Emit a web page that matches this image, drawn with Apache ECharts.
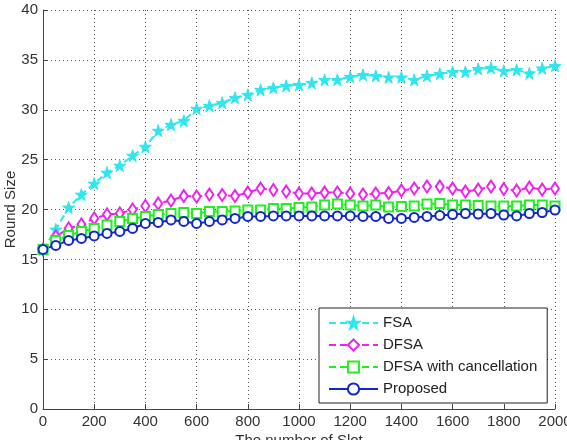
<!DOCTYPE html>
<html>
<head>
<meta charset="utf-8">
<title>Round Size</title>
<script src="https://cdn.jsdelivr.net/npm/echarts@6/dist/echarts.min.js"></script>
<style>
	html, body { margin: 0; padding: 0; background: #fff; }
	#main { width: 567px; height: 440px; }
</style>
</head>
<body>
	<div id="main"></div>
<script type="text/javascript">
	// 横轴：时隙数
	var slots = [0, 50, 100, 150, 200, 250, 300, 350, 400, 450, 500, 550, 600, 650, 700, 750, 800, 850, 900, 950,
		1000, 1050, 1100, 1150, 1200, 1250, 1300, 1350, 1400, 1450, 1500, 1550, 1600, 1650, 1700, 1750, 1800, 1850, 1900, 1950, 2000];
	var fsa = [16, 18.0, 20.2, 21.5, 22.6, 23.7, 24.4, 25.4, 26.3, 27.9, 28.5, 28.9, 30.1, 30.4, 30.7, 31.2, 31.5, 32.0, 32.2, 32.4,
		32.5, 32.7, 33.0, 33.0, 33.3, 33.5, 33.4, 33.25, 33.25, 33.0, 33.4, 33.6, 33.8, 33.8, 34.1, 34.2, 33.9, 34.0, 33.65, 34.15, 34.4];
	var dfsa = [16, 17.3, 18.1, 18.5, 19.1, 19.5, 19.6, 20.0, 20.35, 20.6, 20.9, 21.35, 21.3, 21.5, 21.45, 21.35, 21.7, 22.1, 21.95, 21.8,
		21.6, 21.6, 21.7, 21.7, 21.6, 21.5, 21.6, 21.65, 21.9, 22.1, 22.3, 22.3, 22.1, 21.8, 22.0, 22.3, 22.05, 21.9, 22.2, 22.0, 22.1];
	var dfsaCancel = [16, 16.9, 17.4, 17.8, 18.1, 18.45, 18.8, 19.1, 19.3, 19.5, 19.6, 19.7, 19.6, 19.8, 19.8, 19.85, 19.95, 19.95, 20.1, 20.1,
		20.2, 20.25, 20.45, 20.55, 20.45, 20.35, 20.45, 20.25, 20.3, 20.35, 20.55, 20.6, 20.45, 20.45, 20.4, 20.35, 20.35, 20.35, 20.45, 20.45, 20.35];
	var proposed = [16, 16.4, 16.9, 17.1, 17.35, 17.6, 17.8, 18.1, 18.6, 18.7, 18.95, 18.8, 18.6, 18.8, 18.95, 19.1, 19.3, 19.3, 19.35, 19.35,
		19.35, 19.35, 19.35, 19.35, 19.35, 19.3, 19.3, 19.1, 19.1, 19.2, 19.3, 19.4, 19.5, 19.6, 19.55, 19.6, 19.45, 19.35, 19.6, 19.7, 19.95];
	var names = ['FSA', 'DFSA', 'DFSA with cancellation', 'Proposed'];

	var star = 'path://M50,0 L61,35 L98,35 L68,57 L79,91 L50,70 L21,91 L32,57 L2,35 L39,35 Z';
	var font = '"Liberation Sans Narrow", "Liberation Sans", Arial, sans-serif';

	//组装 [x, y]
	function pairs(ys) {
		var out = [];
		for (var i = 0; i < slots.length; i++) {
			out.push([slots[i], ys[i]]);
		}
		return out;
	}
	//刻度不要千分位
	function plain(v) {
		return String(v);
	}

	var chart = echarts.init(document.getElementById('main'));
	var option = {
		animation : false,
		backgroundColor : '#fff',
		grid : {
			left : 43,
			right : 12,
			top : 10,
			bottom : 31,
			containLabel : false,
			outerBoundsMode : 'none'
		},
		legend : {
			data : names,
			orient : 'vertical',
			left : 319,
			top : 308,
			padding : [7, 10, 6, 9],
			itemGap : 6,
			itemWidth : 49,
			itemHeight : 14,
			borderColor : '#222',
			borderWidth : 1,
			borderRadius : 0,
			backgroundColor : '#fff',
			textStyle : {
				fontFamily : font,
				fontSize : 15,
				lineHeight : 16,
				color : '#222'
			}
		},
		xAxis : {
			type : 'value',
			min : 0,
			max : 2000,
			interval : 200,
			name : 'The number of Slot',
			nameLocation : 'middle',
			nameGap : 24,
			nameMoveOverlap : false,
			nameTextStyle : { fontFamily : font, fontSize : 15, color : '#333', verticalAlign : 'top' },
			axisLine : { lineStyle : { color : '#444', width : 1 } },
			axisTick : { inside : true, length : 5, lineStyle : { color : '#444' } },
			axisLabel : { fontFamily : font, fontSize : 15, color : '#333', margin : 5, formatter : plain },
			splitLine : { show : true, lineStyle : { color : '#555', type : [1, 3] } }
		},
		yAxis : {
			type : 'value',
			min : 0,
			max : 40,
			interval : 5,
			name : 'Round Size',
			nameLocation : 'middle',
			nameGap : 25,
			nameMoveOverlap : false,
			nameTextStyle : { fontFamily : font, fontSize : 15, color : '#333' },
			axisLine : { show : true, lineStyle : { color : '#444', width : 1 } },
			axisTick : { show : true, inside : true, length : 5, lineStyle : { color : '#444' } },
			axisLabel : { fontFamily : font, fontSize : 15, color : '#333', margin : 5, formatter : plain },
			splitLine : { show : true, lineStyle : { color : '#555', type : [1, 3] } }
		},
		series : [ {
			name : 'FSA',
			type : 'line',
			data : pairs(fsa),
			symbol : star,
			symbolSize : 12,
			showAllSymbol : true,
			itemStyle : { color : '#2ee6ee', borderColor : '#2ee6ee', borderWidth : 1 },
			lineStyle : { color : '#2ee6ee', width : 2, type : [7, 4] }
		}, {
			name : 'DFSA',
			type : 'line',
			data : pairs(dfsa),
			symbol : 'diamond',
			symbolSize : [8, 12],
			showAllSymbol : true,
			itemStyle : { color : '#fff', borderColor : '#ee22ee', borderWidth : 2 },
			lineStyle : { color : '#ee22ee', width : 2, type : [7, 4] }
		}, {
			name : 'DFSA with cancellation',
			type : 'line',
			data : pairs(dfsaCancel),
			symbol : 'rect',
			symbolSize : 9,
			showAllSymbol : true,
			itemStyle : { color : '#fff', borderColor : '#22ee22', borderWidth : 2 },
			lineStyle : { color : '#22ee22', width : 2, type : [7, 4] }
		}, {
			name : 'Proposed',
			type : 'line',
			data : pairs(proposed),
			symbol : 'circle',
			symbolSize : 9,
			showAllSymbol : true,
			itemStyle : { color : '#fff', borderColor : '#1428c8', borderWidth : 2 },
			lineStyle : { color : '#1428c8', width : 2 }
		} ]
	};
	chart.setOption(option);
</script>
</body>
</html>
